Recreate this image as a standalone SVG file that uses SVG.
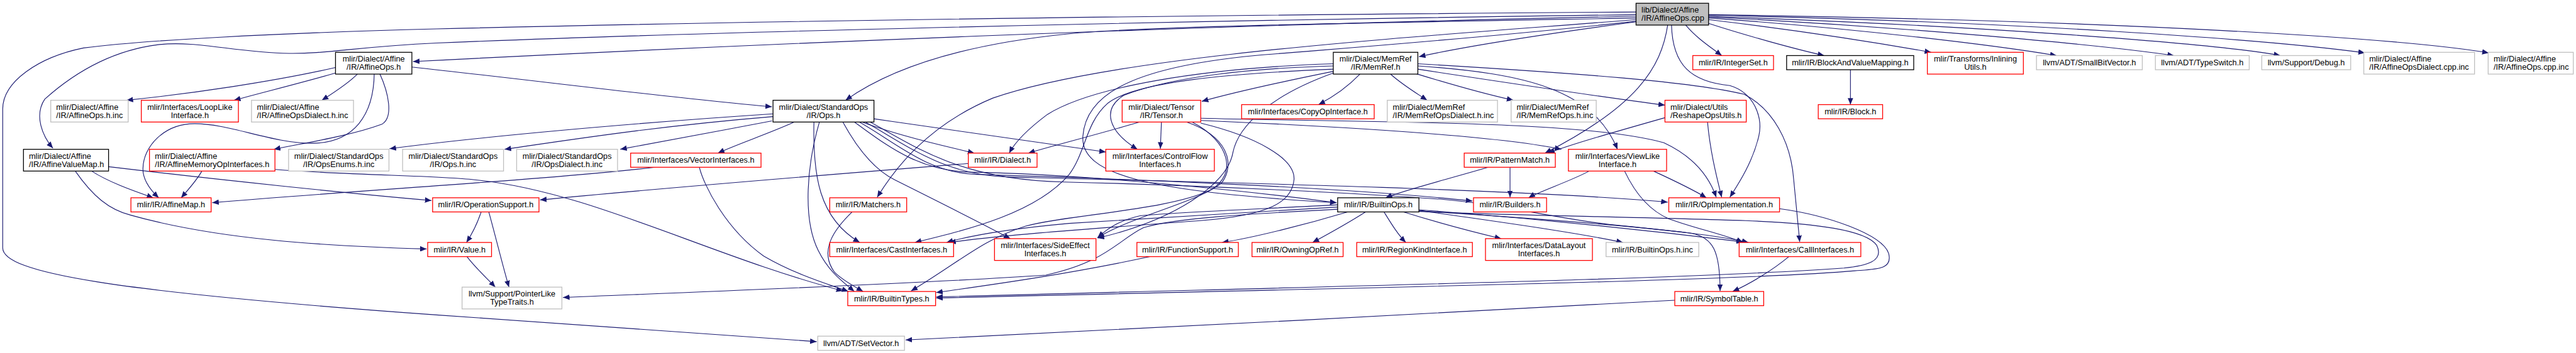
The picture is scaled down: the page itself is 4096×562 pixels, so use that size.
<svg xmlns="http://www.w3.org/2000/svg" width="4096" height="562" viewBox="0 0 4096 562">
<defs>
<marker id="arr" markerWidth="12" markerHeight="10" refX="12" refY="5" orient="auto" markerUnits="userSpaceOnUse"><path d="M0,0 L12,5 L0,10 z" fill="#191970"/></marker>
<style>
.node rect{fill:#fff;stroke-width:1.5}
.nb rect{stroke:#000}
.nr rect{stroke:#ff0000}
.ng rect{stroke:#bfbfbf}
.nroot rect{fill:#bfbfbf;stroke:#000}
text{font-family:"Liberation Sans",Arial,sans-serif;font-size:14.7px;fill:#000}
.c{text-anchor:middle}
#edges path{fill:none;stroke:#191970;stroke-width:1.3;marker-end:url(#arr)}
</style>
</defs>
<rect width="4096" height="562" fill="#fff"/>
<g transform="scale(0.86743)">
<g id="edges">
<path d="M2999,30 C2200,45 1300,85 757,113"/>
<path d="M2999,27 C2100,38 1200,62 800,79 C650,86 600,99 530,98 C430,96 360,74 290,82 C210,92 140,130 82,182 C62,212 78,250 97,272"/>
<path d="M2999,22 C2300,27 1500,36 800,53 C500,61 260,74 153,88 C70,105 5,150 5,200 L5,455 C5,500 200,535 800,578 C1100,598 1300,614 1497,627"/>
<path d="M2999,36 C2600,68 2050,100 1820,180 C1700,230 1640,310 1608,362"/>
<path d="M2999,40 C2850,60 2700,82 2601,104"/>
<path d="M3057,46 C3045,125 3000,195 2832,281"/>
<path d="M3064,46 C3066,120 3100,150 3171,157 C3215,170 3232,215 3224,250 C3212,300 3185,340 3171,362"/>
<path d="M3090,46 C3110,70 3135,86 3156,102"/>
<path d="M3132,43 C3200,65 3290,90 3344,102"/>
<path d="M3132,36 C3300,56 3450,80 3540,96"/>
<path d="M3132,33 C3400,52 3650,82 3770,102"/>
<path d="M3132,31 C3500,50 3850,82 3985,102"/>
<path d="M3132,30 C3600,46 4050,78 4180,102"/>
<path d="M3132,28 C3700,40 4150,72 4335,97"/>
<path d="M3132,27 C3900,38 4400,70 4562,97"/>
<path d="M2999,33 C2500,42 2100,48 1960,62 C1780,80 1640,120 1550,184"/>
<path d="M2999,39 C2700,72 2440,90 2300,102 C2060,125 1990,180 1985,250 C1980,320 2100,352 2450,372"/>
<path d="M615,124 C500,150 350,172 232,184"/>
<path d="M615,134 C560,150 480,170 429,184"/>
<path d="M656,135 C640,152 612,170 590,184"/>
<path d="M696,135 C712,170 722,215 700,228 C640,250 560,262 502,274"/>
<path d="M686,135 C685,210 650,263 570,263 C500,263 420,227 357,227 C300,227 262,270 262,310 C262,330 275,348 291,363"/>
<path d="M755,123 C1000,150 1250,182 1415,196"/>
<path d="M168,314 C200,335 250,352 281,363"/>
<path d="M138,314 C170,360 200,385 240,395 C400,440 600,452 782,457"/>
<path d="M199,306 C400,330 650,356 791,368"/>
<path d="M370,314 C360,332 345,348 332,363"/>
<path d="M504,311 C650,322 800,322 870,330 C1080,350 1300,470 1545,534"/>
<path d="M1417,209 C1100,230 850,255 714,273"/>
<path d="M1417,214 C1200,232 1050,256 925,274"/>
<path d="M1415,222 C1320,240 1200,262 1137,274"/>
<path d="M1456,224 C1410,245 1350,265 1316,281"/>
<path d="M1502,224 C1480,300 1470,400 1500,460 C1520,500 1545,517 1566,535"/>
<path d="M1492,224 C1490,320 1500,400 1576,445"/>
<path d="M1580,224 C1650,250 1740,270 1786,281"/>
<path d="M1602,218 C1750,240 1900,262 2027,279"/>
<path d="M1575,224 C1640,260 1700,318 1790,320 C2050,328 2450,342 2699,369"/>
<path d="M1586,224 C1660,265 1730,322 1850,325 C2250,335 2800,348 3057,371"/>
<path d="M1566,224 C1620,262 1680,314 1780,316 C2000,320 2300,352 2450,372"/>
<path d="M1595,224 C1680,270 1760,330 1950,334 C2200,340 2500,355 2646,366 C2750,375 2850,400 2950,412 C3050,422 3150,432 3205,445"/>
<path d="M1545,224 C1570,270 1600,310 1640,330 C1720,370 1800,410 1852,438"/>
<path d="M2089,224 C2000,250 1920,270 1885,281"/>
<path d="M2129,224 L2127,273"/>
<path d="M2201,217 C2500,225 2900,220 3050,262 C3110,290 3135,330 3146,362"/>
<path d="M2201,221 C2450,232 2750,250 2862,274"/>
<path d="M2201,226 C2300,250 2375,290 2372,330 C2368,370 2330,395 2200,405 C2000,420 1850,430 1740,445"/>
<path d="M2175,224 C2250,250 2265,300 2240,335 C2200,370 2080,395 2012,436"/>
<path d="M2185,224 C2255,260 2268,320 2220,348 C2150,385 1950,395 1880,415 C1800,440 1760,480 1670,534"/>
<path d="M2493,136 C2470,160 2440,180 2417,192"/>
<path d="M2549,136 C2570,155 2595,170 2616,184"/>
<path d="M2595,135 C2660,155 2720,172 2774,184"/>
<path d="M2599,127 C2750,150 2950,180 3052,193"/>
<path d="M2599,121 C2800,135 2920,165 2965,274"/>
<path d="M2599,117 C2900,135 3100,150 3197,173 C3250,200 3283,260 3288,330 L3299,444"/>
<path d="M2444,131 C2350,150 2260,170 2203,186"/>
<path d="M2444,117 C2200,125 2000,160 1920,210 C1880,240 1860,262 1850,281"/>
<path d="M2444,121 C2300,125 2150,140 2060,175 C2020,200 2030,240 2085,274"/>
<path d="M2444,127 C2250,135 2080,150 2030,190 C1990,225 1990,280 1960,320 C1900,390 1780,420 1677,445"/>
<path d="M2444,134 C2330,175 2270,230 2260,280 C2250,340 2150,405 2012,437"/>
<path d="M1775,300 C1500,322 1200,346 990,367"/>
<path d="M882,389 C875,410 865,430 855,445"/>
<path d="M896,389 C910,440 922,490 933,527"/>
<path d="M856,471 C872,492 892,510 908,527"/>
<path d="M1201,307 C1000,330 700,346 389,372"/>
<path d="M1282,307 C1290,340 1330,420 1400,470 C1460,505 1520,522 1555,535"/>
<path d="M1562,389 C1530,420 1500,460 1530,500 C1545,515 1570,528 1582,535"/>
<path d="M2728,307 C2650,330 2570,350 2540,363"/>
<path d="M2768,307 L2768,362"/>
<path d="M2913,314 C2880,332 2820,352 2802,363"/>
<path d="M3031,314 C3070,332 3110,352 3128,363"/>
<path d="M2978,314 C2995,350 3020,385 3060,402 C3110,420 3160,430 3195,445"/>
<path d="M3052,216 C2950,245 2880,265 2838,281"/>
<path d="M3130,224 C3135,280 3148,330 3156,362"/>
<path d="M3392,128 L3392,192"/>
<path d="M2503,389 C2470,410 2430,432 2406,445"/>
<path d="M2537,389 C2550,410 2562,430 2577,445"/>
<path d="M2573,389 C2640,410 2710,428 2752,438"/>
<path d="M2601,386 C2750,408 2880,425 2975,445"/>
<path d="M2601,385 C2800,400 3000,420 3195,444"/>
<path d="M2601,387 C2800,400 3000,415 3100,428 C3140,436 3153,460 3153,534"/>
<path d="M2601,388 C2750,395 3000,398 3200,405 C3330,410 3420,422 3440,450 C3455,480 3420,488 3380,492 C3100,512 2500,524 1716,545"/>
<path d="M2452,380 C2300,390 2100,400 1960,410 C1850,420 1780,432 1735,445"/>
<path d="M2452,376 C2300,384 2150,390 2090,396 C2050,405 2030,420 2012,436"/>
<path d="M2470,389 C2400,410 2300,436 2240,445"/>
<path d="M2452,384 C2300,392 2150,400 2096,418 C2050,440 2030,480 1917,505 C1700,520 1300,535 1032,546"/>
<path d="M3262,383 C3350,395 3450,430 3462,465 C3470,495 3440,494 3400,497 C3200,515 2500,528 1716,547"/>
<path d="M2108,471 C1950,505 1800,525 1716,537"/>
<path d="M3279,471 C3250,495 3210,520 3176,535"/>
<path d="M3070,551 C2700,570 2000,610 1660,624"/>
</g>
<g id="n-root" class="node nroot"><rect x="2999" y="6" width="133" height="40"/><text x="3009" y="23.5">lib/Dialect/Affine</text><text x="3009" y="38.5">/IR/AffineOps.cpp</text></g>
<g id="n-affineops-h" class="node nb"><rect x="615" y="96" width="140" height="40"/><text class="c" x="685" y="113.5">mlir/Dialect/Affine</text><text class="c" x="685" y="128.5">/IR/AffineOps.h</text></g>
<g id="n-memref-h" class="node nb"><rect x="2444" y="96" width="155" height="40"/><text class="c" x="2521.5" y="113.5">mlir/Dialect/MemRef</text><text class="c" x="2521.5" y="128.5">/IR/MemRef.h</text></g>
<g id="n-integerset" class="node nr"><rect x="3103" y="102" width="148" height="26"/><text class="c" x="3177" y="120">mlir/IR/IntegerSet.h</text></g>
<g id="n-bavm" class="node nb"><rect x="3275" y="102" width="233" height="26"/><text class="c" x="3391.5" y="120">mlir/IR/BlockAndValueMapping.h</text></g>
<g id="n-inlining" class="node nr"><rect x="3533" y="96" width="176" height="40"/><text class="c" x="3621" y="113.5">mlir/Transforms/Inlining</text><text class="c" x="3621" y="128.5">Utils.h</text></g>
<g id="n-smallbitvector" class="node ng"><rect x="3733" y="102" width="194" height="26"/><text class="c" x="3830" y="120">llvm/ADT/SmallBitVector.h</text></g>
<g id="n-typeswitch" class="node ng"><rect x="3951" y="102" width="172" height="26"/><text class="c" x="4037" y="120">llvm/ADT/TypeSwitch.h</text></g>
<g id="n-debug" class="node ng"><rect x="4146" y="102" width="163" height="26"/><text class="c" x="4227.5" y="120">llvm/Support/Debug.h</text></g>
<g id="n-aodcpp" class="node ng"><rect x="4333" y="96" width="203" height="40"/><text x="4343" y="113.5">mlir/Dialect/Affine</text><text x="4343" y="128.5">/IR/AffineOpsDialect.cpp.inc</text></g>
<g id="n-aocpp" class="node ng"><rect x="4561" y="96" width="156" height="40"/><text x="4571" y="113.5">mlir/Dialect/Affine</text><text x="4571" y="128.5">/IR/AffineOps.cpp.inc</text></g>
<g id="n-aohinc" class="node ng"><rect x="93" y="184" width="142" height="40"/><text x="103" y="201.5">mlir/Dialect/Affine</text><text x="103" y="216.5">/IR/AffineOps.h.inc</text></g>
<g id="n-looplike" class="node nr"><rect x="259" y="184" width="178" height="40"/><text class="c" x="348" y="201.5">mlir/Interfaces/LoopLike</text><text class="c" x="348" y="216.5">Interface.h</text></g>
<g id="n-aodhinc" class="node ng"><rect x="461" y="184" width="187" height="40"/><text x="471" y="201.5">mlir/Dialect/Affine</text><text x="471" y="216.5">/IR/AffineOpsDialect.h.inc</text></g>
<g id="n-stdops" class="node nb"><rect x="1417" y="184" width="185" height="40"/><text class="c" x="1509.5" y="201.5">mlir/Dialect/StandardOps</text><text class="c" x="1509.5" y="216.5">/IR/Ops.h</text></g>
<g id="n-tensor" class="node nr"><rect x="2057" y="184" width="144" height="40"/><text class="c" x="2129" y="201.5">mlir/Dialect/Tensor</text><text class="c" x="2129" y="216.5">/IR/Tensor.h</text></g>
<g id="n-copyop" class="node nr"><rect x="2276" y="192" width="243" height="26"/><text class="c" x="2397.5" y="210">mlir/Interfaces/CopyOpInterface.h</text></g>
<g id="n-memrefopsdialect" class="node ng"><rect x="2543" y="184" width="202" height="40"/><text x="2553" y="201.5">mlir/Dialect/MemRef</text><text x="2553" y="216.5">/IR/MemRefOpsDialect.h.inc</text></g>
<g id="n-memrefops" class="node ng"><rect x="2770" y="184" width="156" height="40"/><text x="2780" y="201.5">mlir/Dialect/MemRef</text><text x="2780" y="216.5">/IR/MemRefOps.h.inc</text></g>
<g id="n-reshape" class="node nr"><rect x="3052" y="184" width="149" height="40"/><text x="3062" y="201.5">mlir/Dialect/Utils</text><text x="3062" y="216.5">/ReshapeOpsUtils.h</text></g>
<g id="n-block" class="node nr"><rect x="3333" y="192" width="118" height="26"/><text class="c" x="3392" y="210">mlir/IR/Block.h</text></g>
<g id="n-avm" class="node nb"><rect x="43" y="274" width="156" height="40"/><text x="53" y="291.5">mlir/Dialect/Affine</text><text x="53" y="306.5">/IR/AffineValueMap.h</text></g>
<g id="n-amoi" class="node nr"><rect x="274" y="274" width="230" height="40"/><text x="284" y="291.5">mlir/Dialect/Affine</text><text x="284" y="306.5">/IR/AffineMemoryOpInterfaces.h</text></g>
<g id="n-opsenums" class="node ng"><rect x="529" y="274" width="184" height="40"/><text class="c" x="621" y="291.5">mlir/Dialect/StandardOps</text><text class="c" x="621" y="306.5">/IR/OpsEnums.h.inc</text></g>
<g id="n-opshinc" class="node ng"><rect x="738" y="274" width="185" height="40"/><text class="c" x="830.5" y="291.5">mlir/Dialect/StandardOps</text><text class="c" x="830.5" y="306.5">/IR/Ops.h.inc</text></g>
<g id="n-opsdialect" class="node ng"><rect x="947" y="274" width="185" height="40"/><text class="c" x="1039.5" y="291.5">mlir/Dialect/StandardOps</text><text class="c" x="1039.5" y="306.5">/IR/OpsDialect.h.inc</text></g>
<g id="n-vector" class="node nr"><rect x="1156" y="281" width="239" height="26"/><text class="c" x="1275.5" y="299">mlir/Interfaces/VectorInterfaces.h</text></g>
<g id="n-dialect" class="node nr"><rect x="1775" y="281" width="126" height="26"/><text class="c" x="1838" y="299">mlir/IR/Dialect.h</text></g>
<g id="n-cfi" class="node nr"><rect x="2027" y="274" width="199" height="40"/><text class="c" x="2126.5" y="291.5">mlir/Interfaces/ControlFlow</text><text class="c" x="2126.5" y="306.5">Interfaces.h</text></g>
<g id="n-patternmatch" class="node nr"><rect x="2684" y="281" width="167" height="26"/><text class="c" x="2767.5" y="299">mlir/IR/PatternMatch.h</text></g>
<g id="n-viewlike" class="node nr"><rect x="2875" y="274" width="180" height="40"/><text class="c" x="2965" y="291.5">mlir/Interfaces/ViewLike</text><text class="c" x="2965" y="306.5">Interface.h</text></g>
<g id="n-affinemap" class="node nr"><rect x="240" y="363" width="147" height="26"/><text class="c" x="313.5" y="381">mlir/IR/AffineMap.h</text></g>
<g id="n-opsupport" class="node nr"><rect x="793" y="363" width="195" height="26"/><text class="c" x="890.5" y="381">mlir/IR/OperationSupport.h</text></g>
<g id="n-matchers" class="node nr"><rect x="1521" y="363" width="141" height="26"/><text class="c" x="1591.5" y="381">mlir/IR/Matchers.h</text></g>
<g id="n-builtinops" class="node nb"><rect x="2452" y="363" width="149" height="26"/><text class="c" x="2526.5" y="381">mlir/IR/BuiltinOps.h</text></g>
<g id="n-builders" class="node nr"><rect x="2701" y="363" width="134" height="26"/><text class="c" x="2768" y="381">mlir/IR/Builders.h</text></g>
<g id="n-opimpl" class="node nr"><rect x="3059" y="363" width="203" height="26"/><text class="c" x="3160.5" y="381">mlir/IR/OpImplementation.h</text></g>
<g id="n-value" class="node nr"><rect x="784" y="445" width="117" height="26"/><text class="c" x="842.5" y="463">mlir/IR/Value.h</text></g>
<g id="n-cast" class="node nr"><rect x="1521" y="445" width="227" height="26"/><text class="c" x="1634.5" y="463">mlir/Interfaces/CastInterfaces.h</text></g>
<g id="n-sideeffect" class="node nr"><rect x="1823" y="438" width="186" height="40"/><text class="c" x="1916" y="455.5">mlir/Interfaces/SideEffect</text><text class="c" x="1916" y="470.5">Interfaces.h</text></g>
<g id="n-funcsupport" class="node nr"><rect x="2084" y="445" width="186" height="26"/><text class="c" x="2177" y="463">mlir/IR/FunctionSupport.h</text></g>
<g id="n-owningopref" class="node nr"><rect x="2295" y="445" width="167" height="26"/><text class="c" x="2378.5" y="463">mlir/IR/OwningOpRef.h</text></g>
<g id="n-regionkind" class="node nr"><rect x="2487" y="445" width="212" height="26"/><text class="c" x="2593" y="463">mlir/IR/RegionKindInterface.h</text></g>
<g id="n-datalayout" class="node nr"><rect x="2723" y="438" width="196" height="40"/><text class="c" x="2821" y="455.5">mlir/Interfaces/DataLayout</text><text class="c" x="2821" y="470.5">Interfaces.h</text></g>
<g id="n-builtinopsinc" class="node ng"><rect x="2944" y="445" width="170" height="26"/><text class="c" x="3029" y="463">mlir/IR/BuiltinOps.h.inc</text></g>
<g id="n-call" class="node nr"><rect x="3188" y="445" width="223" height="26"/><text class="c" x="3299.5" y="463">mlir/Interfaces/CallInterfaces.h</text></g>
<g id="n-pointerlike" class="node ng"><rect x="847" y="527" width="183" height="40"/><text class="c" x="938.5" y="544.5">llvm/Support/PointerLike</text><text class="c" x="938.5" y="559.5">TypeTraits.h</text></g>
<g id="n-builtintypes" class="node nr"><rect x="1554" y="535" width="161" height="26"/><text class="c" x="1634.5" y="553">mlir/IR/BuiltinTypes.h</text></g>
<g id="n-symboltable" class="node nr"><rect x="3070" y="535" width="163" height="26"/><text class="c" x="3151.5" y="553">mlir/IR/SymbolTable.h</text></g>
<g id="n-setvector" class="node ng"><rect x="1499" y="617" width="159" height="26"/><text class="c" x="1578.5" y="635">llvm/ADT/SetVector.h</text></g>
</g>
</svg>
